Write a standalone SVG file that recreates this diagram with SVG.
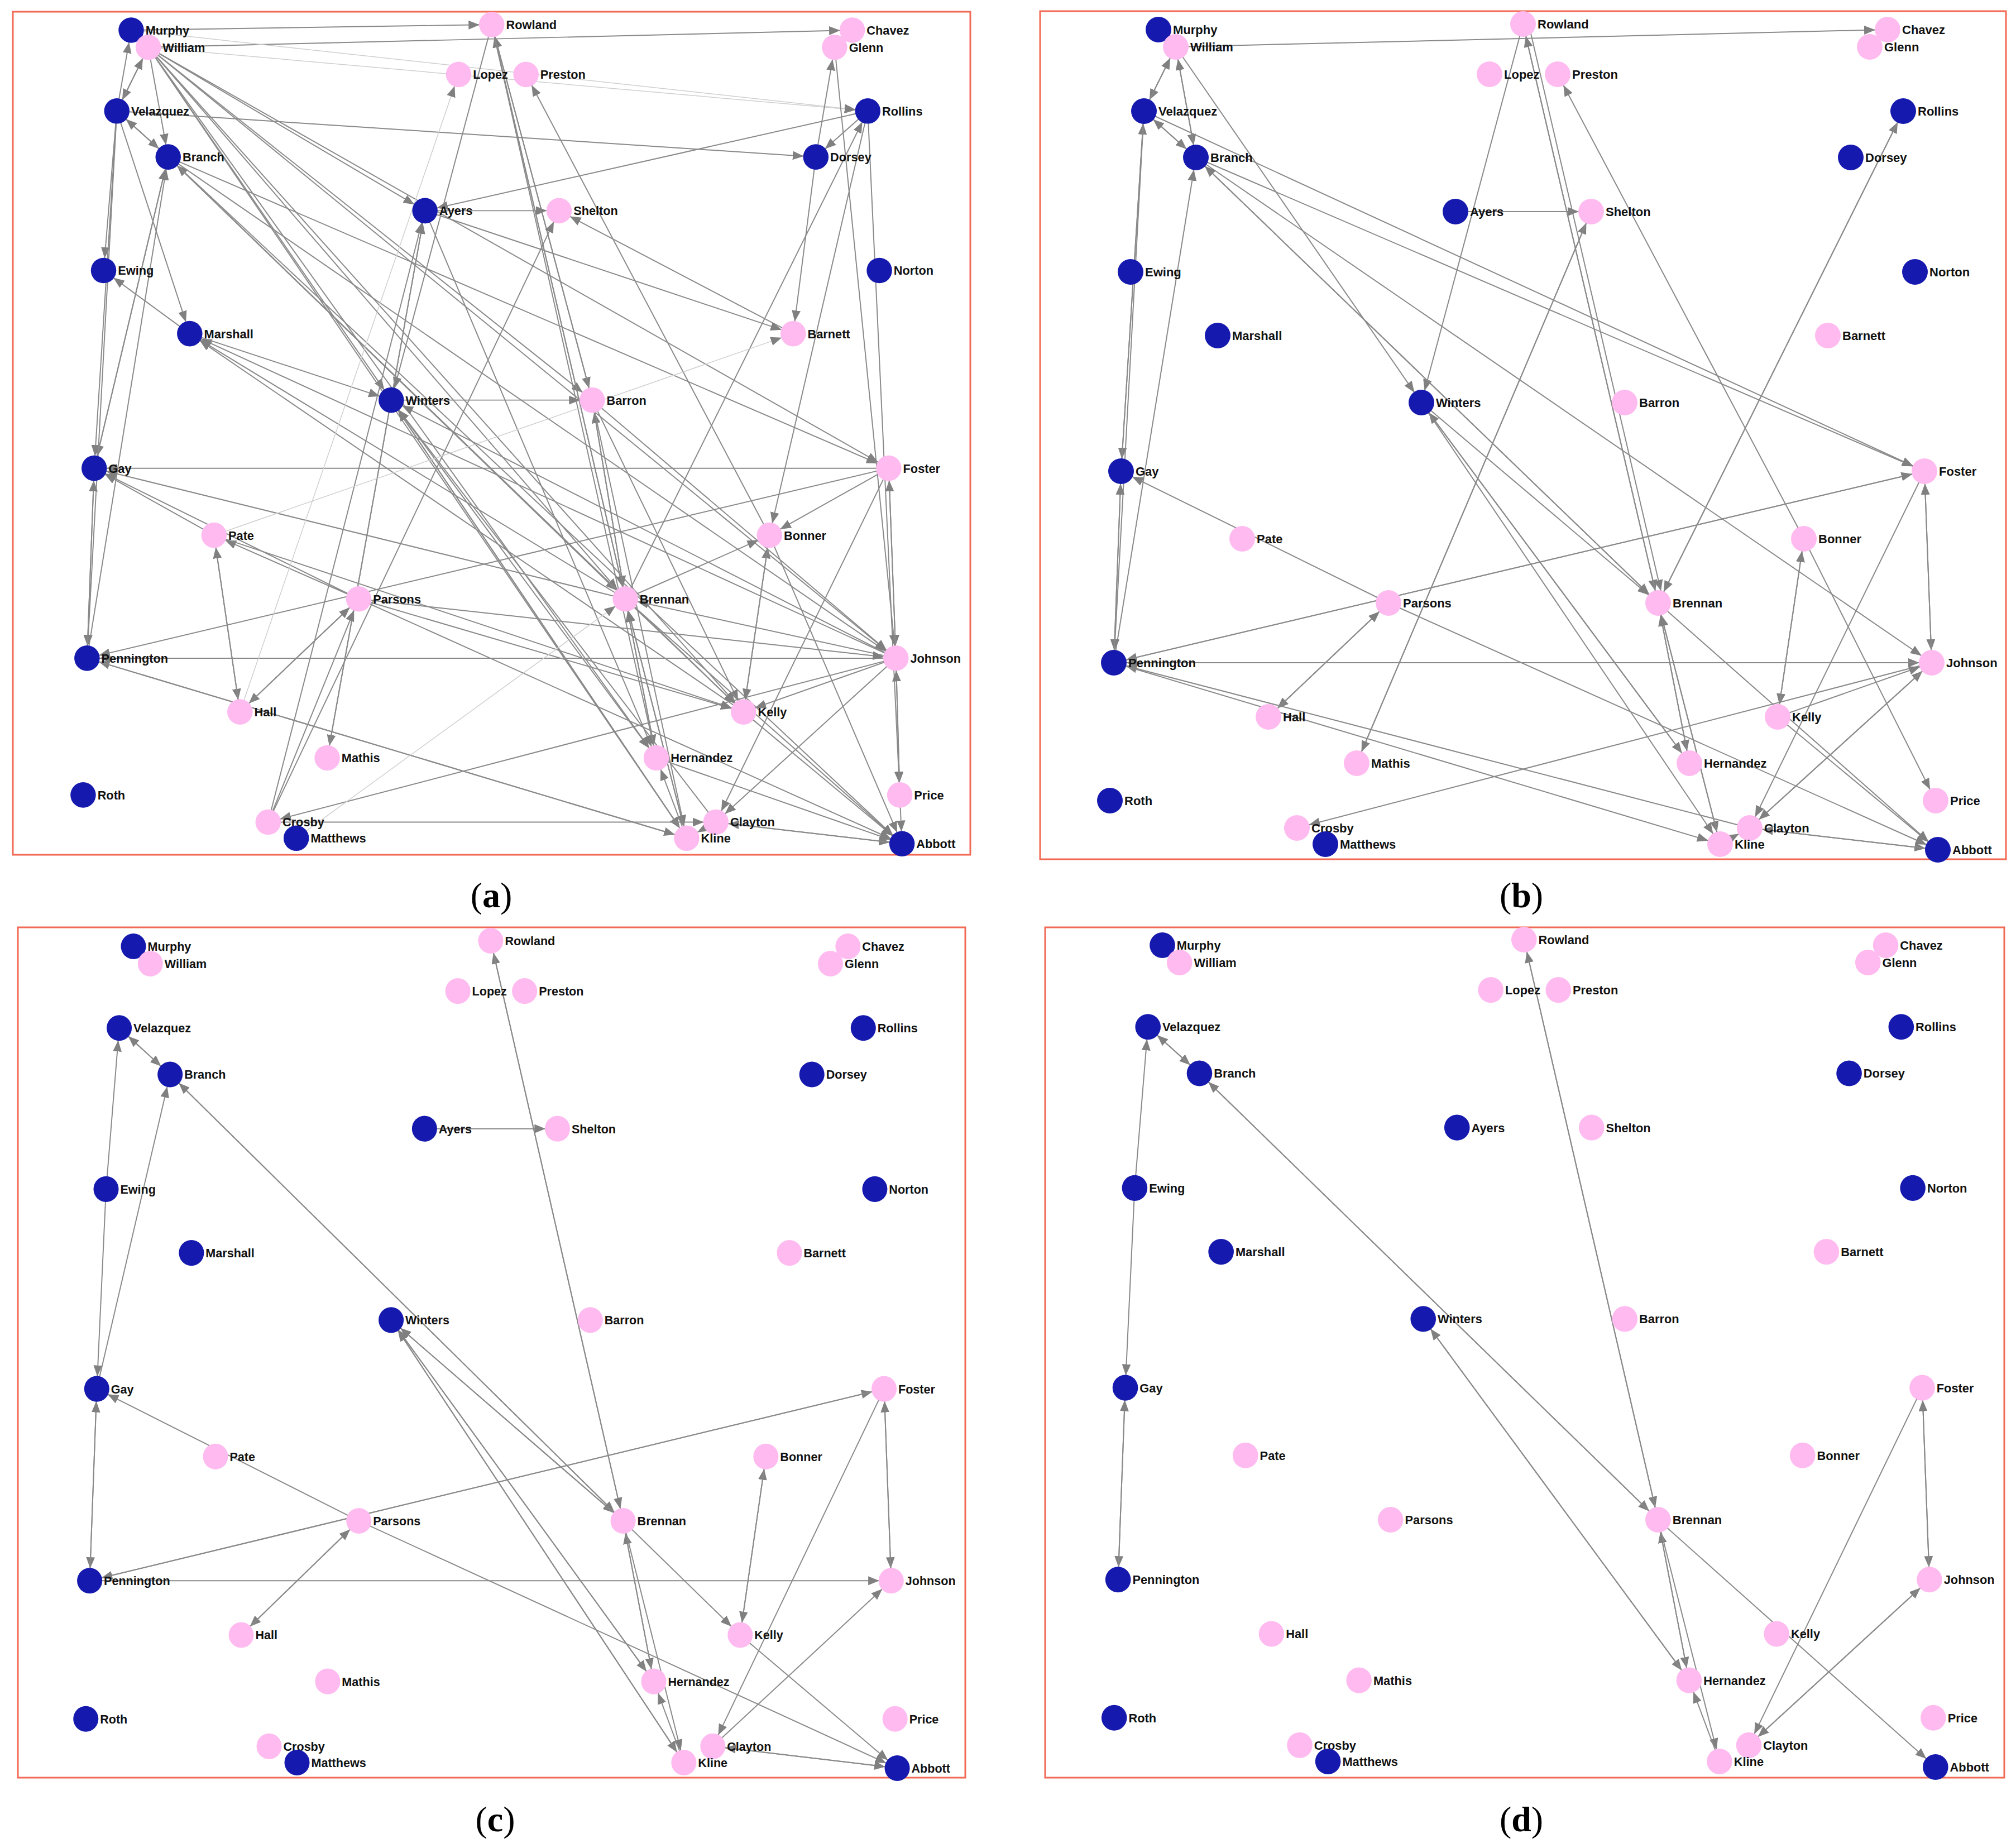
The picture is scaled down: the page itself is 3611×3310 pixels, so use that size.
<svg xmlns="http://www.w3.org/2000/svg" xmlns:xlink="http://www.w3.org/1999/xlink" width="3611" height="3310" viewBox="0 0 3611 3310">
<style>
.e line{stroke:#8a8a8a;stroke-width:2;marker-end:url(#ah)}
.e line.f{stroke:#cfcfcf;stroke-width:1.5}
.bl{fill:#1619ae}
.pk{fill:#ffbbf0}
.t{font-family:"Liberation Sans",Arial,sans-serif;font-size:22px;font-weight:bold;fill:#111}
.fr{fill:none;stroke:#f26a55;stroke-width:3}
.cap{font-family:"Liberation Serif","Times New Roman",serif;font-size:64px;fill:#000;text-anchor:middle}
</style>
<defs>
<marker id="ah" markerUnits="userSpaceOnUse" markerWidth="22" markerHeight="16" refX="42" refY="8" orient="auto"><path d="M0,0L20,8L0,16z" fill="#808080"/></marker>
</defs>
<rect width="3611" height="3310" fill="#fff"/>
<rect class="fr" x="23" y="21" width="1715" height="1510"/>
<rect class="fr" x="1863" y="20" width="1730" height="1519"/>
<rect class="fr" x="32" y="1661" width="1697" height="1523"/>
<rect class="fr" x="1872" y="1661" width="1718" height="1523"/>
<text class="cap" x="880" y="1625">(<tspan font-weight="bold">a</tspan>)</text>
<text class="cap" x="2725" y="1625">(<tspan font-weight="bold">b</tspan>)</text>
<text class="cap" x="887" y="3280">(<tspan font-weight="bold">c</tspan>)</text>
<text class="cap" x="2725" y="3280">(<tspan font-weight="bold">d</tspan>)</text>

<g id="connectors">
<g id="edges-a" class="e" transform="translate(-1817.2,1.4) scale(0.989,0.992)">
<line x1="2075" y1="53" x2="2728" y2="43"/>
<line x1="2106" y1="84" x2="3381" y2="53"/>
<line class="f" x1="2075" y1="53" x2="3409" y2="199"/>
<line class="f" x1="2106" y1="84" x2="3409" y2="199"/>
<line x1="2106" y1="84" x2="2049" y2="199"/>
<line x1="2049" y1="199" x2="2106" y2="84"/>
<line x1="2049" y1="199" x2="2075" y2="53"/>
<line x1="2106" y1="84" x2="2142" y2="282"/>
<line x1="2049" y1="199" x2="2142" y2="282"/>
<line x1="2142" y1="282" x2="2049" y2="199"/>
<line x1="2049" y1="199" x2="3315" y2="282"/>
<line x1="2106" y1="84" x2="2607" y2="379"/>
<line x1="2106" y1="84" x2="2546" y2="721"/>
<line x1="2106" y1="84" x2="2910" y2="721"/>
<line x1="2106" y1="84" x2="2970" y2="1080"/>
<line x1="2106" y1="84" x2="3447" y2="844"/>
<line x1="2106" y1="84" x2="3460" y2="1187"/>
<line x1="2106" y1="84" x2="3081" y2="1512"/>
<line x1="2106" y1="84" x2="3026" y2="1367"/>
<line x1="2106" y1="84" x2="3184" y2="1284"/>
<line x1="2049" y1="199" x2="2181" y2="601"/>
<line x1="2049" y1="199" x2="2025" y2="487"/>
<line x1="2181" y1="601" x2="2025" y2="487"/>
<line x1="2049" y1="199" x2="2008" y2="844"/>
<line x1="2142" y1="282" x2="2008" y2="844"/>
<line x1="2008" y1="844" x2="2142" y2="282"/>
<line x1="1995" y1="1187" x2="2142" y2="282"/>
<line x1="2049" y1="199" x2="1995" y2="1187"/>
<line x1="2008" y1="844" x2="1995" y2="1187"/>
<line x1="1995" y1="1187" x2="2008" y2="844"/>
<line x1="3447" y1="844" x2="2008" y2="844"/>
<line x1="2970" y1="1080" x2="2008" y2="844"/>
<line x1="2487" y1="1080" x2="2008" y2="844"/>
<line x1="2225" y1="965" x2="2008" y2="844"/>
<line x1="2142" y1="282" x2="2970" y2="1080"/>
<line x1="2970" y1="1080" x2="2142" y2="282"/>
<line x1="2142" y1="282" x2="3460" y2="1187"/>
<line x1="2142" y1="282" x2="3447" y2="844"/>
<line x1="2142" y1="282" x2="3184" y2="1284"/>
<line x1="2142" y1="282" x2="3471" y2="1522"/>
<line x1="3460" y1="1187" x2="2181" y2="601"/>
<line x1="3184" y1="1284" x2="2181" y2="601"/>
<line x1="2970" y1="1080" x2="2181" y2="601"/>
<line x1="2181" y1="601" x2="2546" y2="721"/>
<line x1="2546" y1="721" x2="2910" y2="721"/>
<line x1="2546" y1="721" x2="3081" y2="1512"/>
<line x1="3081" y1="1512" x2="2546" y2="721"/>
<line x1="2546" y1="721" x2="3026" y2="1367"/>
<line x1="3134" y1="1483" x2="2546" y2="721"/>
<line x1="2728" y1="43" x2="2910" y2="721"/>
<line x1="2910" y1="721" x2="2728" y2="43"/>
<line x1="2728" y1="43" x2="2970" y2="1080"/>
<line x1="2970" y1="1080" x2="2728" y2="43"/>
<line x1="2728" y1="43" x2="3026" y2="1367"/>
<line x1="2728" y1="43" x2="2546" y2="721"/>
<line x1="2607" y1="379" x2="2430" y2="1367"/>
<line x1="2430" y1="1367" x2="2607" y2="379"/>
<line x1="2323" y1="1483" x2="2607" y2="379"/>
<line x1="2607" y1="379" x2="2850" y2="379"/>
<line x1="2607" y1="379" x2="3026" y2="1367"/>
<line x1="3409" y1="199" x2="2607" y2="379"/>
<line x1="3231" y1="965" x2="2790" y2="133"/>
<line x1="3274" y1="601" x2="2850" y2="379"/>
<line x1="2607" y1="379" x2="3274" y2="601"/>
<line x1="2323" y1="1483" x2="2850" y2="379"/>
<line x1="3315" y1="282" x2="3349" y2="84"/>
<line x1="3409" y1="199" x2="3315" y2="282"/>
<line x1="3315" y1="282" x2="3274" y2="601"/>
<line x1="3409" y1="199" x2="3231" y2="965"/>
<line x1="3409" y1="199" x2="3467" y2="1434"/>
<line x1="2970" y1="1080" x2="3409" y2="199"/>
<line x1="3349" y1="84" x2="3460" y2="1187"/>
<line class="f" x1="2225" y1="965" x2="3274" y2="601"/>
<line x1="2910" y1="721" x2="3460" y2="1187"/>
<line x1="2910" y1="721" x2="3184" y2="1284"/>
<line x1="2910" y1="721" x2="2970" y2="1080"/>
<line x1="2970" y1="1080" x2="2910" y2="721"/>
<line x1="2910" y1="721" x2="3081" y2="1512"/>
<line x1="3447" y1="844" x2="3460" y2="1187"/>
<line x1="3460" y1="1187" x2="3447" y2="844"/>
<line x1="3447" y1="844" x2="1995" y2="1187"/>
<line x1="3447" y1="844" x2="3231" y2="965"/>
<line x1="3447" y1="844" x2="3134" y2="1483"/>
<line x1="3460" y1="1187" x2="1995" y2="1187"/>
<line x1="3460" y1="1187" x2="2970" y2="1080"/>
<line x1="2487" y1="1080" x2="3460" y2="1187"/>
<line x1="3460" y1="1187" x2="2323" y2="1483"/>
<line x1="3460" y1="1187" x2="3184" y2="1284"/>
<line x1="3460" y1="1187" x2="2546" y2="721"/>
<line x1="3460" y1="1187" x2="3467" y2="1434"/>
<line x1="3467" y1="1434" x2="3460" y2="1187"/>
<line x1="3467" y1="1434" x2="3471" y2="1522"/>
<line x1="3460" y1="1187" x2="3134" y2="1483"/>
<line x1="2225" y1="965" x2="2272" y2="1284"/>
<line x1="2272" y1="1284" x2="2225" y2="965"/>
<line x1="2487" y1="1080" x2="2225" y2="965"/>
<line x1="2225" y1="965" x2="3184" y2="1284"/>
<line x1="2487" y1="1080" x2="2272" y2="1284"/>
<line x1="2272" y1="1284" x2="2487" y2="1080"/>
<line x1="2323" y1="1483" x2="2487" y2="1080"/>
<line x1="2487" y1="1080" x2="3471" y2="1522"/>
<line x1="2487" y1="1080" x2="3184" y2="1284"/>
<line x1="3081" y1="1512" x2="1995" y2="1187"/>
<line x1="1995" y1="1187" x2="3081" y2="1512"/>
<line class="f" x1="2272" y1="1284" x2="2668" y2="133"/>
<line x1="2323" y1="1483" x2="3134" y2="1483"/>
<line class="f" x1="2374" y1="1512" x2="2970" y2="1080"/>
<line x1="3184" y1="1284" x2="3231" y2="965"/>
<line x1="3231" y1="965" x2="3184" y2="1284"/>
<line x1="2970" y1="1080" x2="3231" y2="965"/>
<line x1="2970" y1="1080" x2="3184" y2="1284"/>
<line x1="3184" y1="1284" x2="3471" y2="1522"/>
<line x1="2970" y1="1080" x2="3471" y2="1522"/>
<line x1="3026" y1="1367" x2="3471" y2="1522"/>
<line x1="3231" y1="965" x2="3471" y2="1522"/>
<line x1="2970" y1="1080" x2="3026" y2="1367"/>
<line x1="3026" y1="1367" x2="2970" y2="1080"/>
<line x1="2970" y1="1080" x2="3081" y2="1512"/>
<line x1="3081" y1="1512" x2="2970" y2="1080"/>
<line x1="3081" y1="1512" x2="3026" y2="1367"/>
<line x1="3134" y1="1483" x2="3471" y2="1522"/>
<line x1="3471" y1="1522" x2="3134" y2="1483"/>
<line x1="3134" y1="1483" x2="3081" y2="1512"/>
</g>

<g id="edges-b" class="e">
<line x1="2106" y1="84" x2="3381" y2="53"/>
<line x1="2106" y1="84" x2="2049" y2="199"/>
<line x1="2049" y1="199" x2="2106" y2="84"/>
<line x1="2106" y1="84" x2="2142" y2="282"/>
<line x1="2142" y1="282" x2="2106" y2="84"/>
<line x1="2049" y1="199" x2="2142" y2="282"/>
<line x1="2142" y1="282" x2="2049" y2="199"/>
<line x1="2049" y1="199" x2="2008" y2="844"/>
<line x1="2008" y1="844" x2="2049" y2="199"/>
<line x1="1995" y1="1187" x2="2142" y2="282"/>
<line x1="2049" y1="199" x2="1995" y2="1187"/>
<line x1="2008" y1="844" x2="1995" y2="1187"/>
<line x1="1995" y1="1187" x2="2008" y2="844"/>
<line x1="2106" y1="84" x2="2546" y2="721"/>
<line x1="2728" y1="43" x2="2546" y2="721"/>
<line x1="2728" y1="43" x2="2970" y2="1080"/>
<line x1="2970" y1="1080" x2="2728" y2="43"/>
<line x1="2738" y1="43" x2="2980" y2="1080"/>
<line x1="3231" y1="965" x2="2790" y2="133"/>
<line x1="2607" y1="379" x2="2850" y2="379"/>
<line x1="2430" y1="1367" x2="2850" y2="379"/>
<line x1="2850" y1="379" x2="2430" y2="1367"/>
<line x1="2970" y1="1080" x2="3409" y2="199"/>
<line x1="3409" y1="199" x2="2970" y2="1080"/>
<line x1="2049" y1="199" x2="3447" y2="844"/>
<line x1="2142" y1="282" x2="3447" y2="844"/>
<line x1="2142" y1="282" x2="3460" y2="1187"/>
<line x1="2142" y1="282" x2="2970" y2="1080"/>
<line x1="2970" y1="1080" x2="2142" y2="282"/>
<line x1="2546" y1="721" x2="2970" y2="1080"/>
<line x1="2546" y1="721" x2="3026" y2="1367"/>
<line x1="3026" y1="1367" x2="2546" y2="721"/>
<line x1="2546" y1="721" x2="3081" y2="1512"/>
<line x1="2487" y1="1080" x2="2008" y2="844"/>
<line x1="2487" y1="1080" x2="2272" y2="1284"/>
<line x1="2272" y1="1284" x2="2487" y2="1080"/>
<line x1="3447" y1="844" x2="1995" y2="1187"/>
<line x1="1995" y1="1187" x2="3447" y2="844"/>
<line x1="1995" y1="1187" x2="3460" y2="1187"/>
<line x1="3460" y1="1187" x2="1995" y2="1187"/>
<line x1="3134" y1="1483" x2="1995" y2="1187"/>
<line x1="1995" y1="1187" x2="3081" y2="1512"/>
<line x1="2487" y1="1080" x2="3471" y2="1522"/>
<line x1="3460" y1="1187" x2="2323" y2="1483"/>
<line x1="3184" y1="1284" x2="3460" y2="1187"/>
<line x1="3231" y1="965" x2="3184" y2="1284"/>
<line x1="3184" y1="1284" x2="3231" y2="965"/>
<line x1="3231" y1="965" x2="3467" y2="1434"/>
<line x1="2970" y1="1080" x2="3471" y2="1522"/>
<line x1="2970" y1="1080" x2="3026" y2="1367"/>
<line x1="3026" y1="1367" x2="2970" y2="1080"/>
<line x1="2970" y1="1080" x2="3081" y2="1512"/>
<line x1="3081" y1="1512" x2="2970" y2="1080"/>
<line x1="3447" y1="844" x2="3134" y2="1483"/>
<line x1="3134" y1="1483" x2="3460" y2="1187"/>
<line x1="3460" y1="1187" x2="3134" y2="1483"/>
<line x1="3447" y1="844" x2="3460" y2="1187"/>
<line x1="3460" y1="1187" x2="3447" y2="844"/>
<line x1="3134" y1="1483" x2="3471" y2="1522"/>
<line x1="3471" y1="1522" x2="3134" y2="1483"/>
<line x1="3081" y1="1512" x2="3134" y2="1483"/>
<line x1="3184" y1="1284" x2="3471" y2="1522"/>
</g>

<g id="edges-c" class="e" transform="translate(-1794.5,1641.9) scale(0.98,1.002)">
<line x1="2049" y1="199" x2="2142" y2="282"/>
<line x1="2142" y1="282" x2="2049" y2="199"/>
<line x1="2025" y1="487" x2="2049" y2="199"/>
<line x1="2025" y1="487" x2="2008" y2="844"/>
<line x1="2008" y1="844" x2="2142" y2="282"/>
<line x1="2142" y1="282" x2="2970" y2="1080"/>
<line x1="2970" y1="1080" x2="2142" y2="282"/>
<line x1="2970" y1="1080" x2="2728" y2="43"/>
<line x1="2728" y1="43" x2="2970" y2="1080"/>
<line x1="2607" y1="379" x2="2850" y2="379"/>
<line x1="2546" y1="721" x2="2970" y2="1080"/>
<line x1="2970" y1="1080" x2="2546" y2="721"/>
<line x1="2546" y1="721" x2="3026" y2="1367"/>
<line x1="3026" y1="1367" x2="2546" y2="721"/>
<line x1="2546" y1="721" x2="3081" y2="1512"/>
<line x1="3081" y1="1512" x2="2546" y2="721"/>
<line x1="2487" y1="1080" x2="2008" y2="844"/>
<line x1="2008" y1="844" x2="1995" y2="1187"/>
<line x1="1995" y1="1187" x2="2008" y2="844"/>
<line x1="2487" y1="1080" x2="2272" y2="1284"/>
<line x1="2272" y1="1284" x2="2487" y2="1080"/>
<line x1="2487" y1="1080" x2="3471" y2="1522"/>
<line x1="1995" y1="1187" x2="3447" y2="844"/>
<line x1="3447" y1="844" x2="1995" y2="1187"/>
<line x1="1995" y1="1187" x2="3460" y2="1187"/>
<line x1="3447" y1="844" x2="3460" y2="1187"/>
<line x1="3460" y1="1187" x2="3447" y2="844"/>
<line x1="3447" y1="844" x2="3134" y2="1483"/>
<line x1="3184" y1="1284" x2="3231" y2="965"/>
<line x1="3231" y1="965" x2="3184" y2="1284"/>
<line x1="2970" y1="1080" x2="3184" y2="1284"/>
<line x1="3184" y1="1284" x2="3471" y2="1522"/>
<line x1="2970" y1="1080" x2="3026" y2="1367"/>
<line x1="3026" y1="1367" x2="2970" y2="1080"/>
<line x1="2970" y1="1080" x2="3081" y2="1512"/>
<line x1="3081" y1="1512" x2="3026" y2="1367"/>
<line x1="3134" y1="1483" x2="3460" y2="1187"/>
<line x1="3471" y1="1522" x2="3134" y2="1483"/>
<line x1="3134" y1="1483" x2="3471" y2="1522"/>
</g>

<g id="edges-d" class="e" transform="translate(23.6,1639.9) scale(0.992,1.002)">
<line x1="2049" y1="199" x2="2142" y2="282"/>
<line x1="2142" y1="282" x2="2049" y2="199"/>
<line x1="2025" y1="487" x2="2049" y2="199"/>
<line x1="2025" y1="487" x2="2008" y2="844"/>
<line x1="2008" y1="844" x2="1995" y2="1187"/>
<line x1="1995" y1="1187" x2="2008" y2="844"/>
<line x1="2142" y1="282" x2="2970" y2="1080"/>
<line x1="2970" y1="1080" x2="2142" y2="282"/>
<line x1="2728" y1="43" x2="2970" y2="1080"/>
<line x1="2970" y1="1080" x2="2728" y2="43"/>
<line x1="2970" y1="1080" x2="3471" y2="1522"/>
<line x1="2546" y1="721" x2="3026" y2="1367"/>
<line x1="3026" y1="1367" x2="2546" y2="721"/>
<line x1="2970" y1="1080" x2="3026" y2="1367"/>
<line x1="3026" y1="1367" x2="2970" y2="1080"/>
<line x1="2970" y1="1080" x2="3081" y2="1512"/>
<line x1="3081" y1="1512" x2="3026" y2="1367"/>
<line x1="3447" y1="844" x2="3460" y2="1187"/>
<line x1="3460" y1="1187" x2="3447" y2="844"/>
<line x1="3447" y1="844" x2="3134" y2="1483"/>
<line x1="3134" y1="1483" x2="3460" y2="1187"/>
<line x1="3460" y1="1187" x2="3134" y2="1483"/>
</g>
</g>

<g id="nodes-b">
<g id="n-Murphy"><circle class="bl" cx="2075" cy="53" r="23"/><text class="t" x="2101" y="61">Murphy</text></g>
<g id="n-William"><circle class="pk" cx="2106" cy="84" r="23"/><text class="t" x="2132" y="92">William</text></g>
<g id="n-Rowland"><circle class="pk" cx="2728" cy="43" r="23"/><text class="t" x="2754" y="51">Rowland</text></g>
<g id="n-Chavez"><circle class="pk" cx="3381" cy="53" r="23"/><text class="t" x="3407" y="61">Chavez</text></g>
<g id="n-Glenn"><circle class="pk" cx="3349" cy="84" r="23"/><text class="t" x="3375" y="92">Glenn</text></g>
<g id="n-Lopez"><circle class="pk" cx="2668" cy="133" r="23"/><text class="t" x="2694" y="141">Lopez</text></g>
<g id="n-Preston"><circle class="pk" cx="2790" cy="133" r="23"/><text class="t" x="2816" y="141">Preston</text></g>
<g id="n-Rollins"><circle class="bl" cx="3409" cy="199" r="23"/><text class="t" x="3435" y="207">Rollins</text></g>
<g id="n-Velazquez"><circle class="bl" cx="2049" cy="199" r="23"/><text class="t" x="2075" y="207">Velazquez</text></g>
<g id="n-Branch"><circle class="bl" cx="2142" cy="282" r="23"/><text class="t" x="2168" y="290">Branch</text></g>
<g id="n-Dorsey"><circle class="bl" cx="3315" cy="282" r="23"/><text class="t" x="3341" y="290">Dorsey</text></g>
<g id="n-Ayers"><circle class="bl" cx="2607" cy="379" r="23"/><text class="t" x="2633" y="387">Ayers</text></g>
<g id="n-Shelton"><circle class="pk" cx="2850" cy="379" r="23"/><text class="t" x="2876" y="387">Shelton</text></g>
<g id="n-Ewing"><circle class="bl" cx="2025" cy="487" r="23"/><text class="t" x="2051" y="495">Ewing</text></g>
<g id="n-Norton"><circle class="bl" cx="3430" cy="487" r="23"/><text class="t" x="3456" y="495">Norton</text></g>
<g id="n-Marshall"><circle class="bl" cx="2181" cy="601" r="23"/><text class="t" x="2207" y="609">Marshall</text></g>
<g id="n-Barnett"><circle class="pk" cx="3274" cy="601" r="23"/><text class="t" x="3300" y="609">Barnett</text></g>
<g id="n-Winters"><circle class="bl" cx="2546" cy="721" r="23"/><text class="t" x="2572" y="729">Winters</text></g>
<g id="n-Barron"><circle class="pk" cx="2910" cy="721" r="23"/><text class="t" x="2936" y="729">Barron</text></g>
<g id="n-Gay"><circle class="bl" cx="2008" cy="844" r="23"/><text class="t" x="2034" y="852">Gay</text></g>
<g id="n-Foster"><circle class="pk" cx="3447" cy="844" r="23"/><text class="t" x="3473" y="852">Foster</text></g>
<g id="n-Pate"><circle class="pk" cx="2225" cy="965" r="23"/><text class="t" x="2251" y="973">Pate</text></g>
<g id="n-Bonner"><circle class="pk" cx="3231" cy="965" r="23"/><text class="t" x="3257" y="973">Bonner</text></g>
<g id="n-Parsons"><circle class="pk" cx="2487" cy="1080" r="23"/><text class="t" x="2513" y="1088">Parsons</text></g>
<g id="n-Brennan"><circle class="pk" cx="2970" cy="1080" r="23"/><text class="t" x="2996" y="1088">Brennan</text></g>
<g id="n-Pennington"><circle class="bl" cx="1995" cy="1187" r="23"/><text class="t" x="2021" y="1195">Pennington</text></g>
<g id="n-Johnson"><circle class="pk" cx="3460" cy="1187" r="23"/><text class="t" x="3486" y="1195">Johnson</text></g>
<g id="n-Hall"><circle class="pk" cx="2272" cy="1284" r="23"/><text class="t" x="2298" y="1292">Hall</text></g>
<g id="n-Kelly"><circle class="pk" cx="3184" cy="1284" r="23"/><text class="t" x="3210" y="1292">Kelly</text></g>
<g id="n-Mathis"><circle class="pk" cx="2430" cy="1367" r="23"/><text class="t" x="2456" y="1375">Mathis</text></g>
<g id="n-Hernandez"><circle class="pk" cx="3026" cy="1367" r="23"/><text class="t" x="3052" y="1375">Hernandez</text></g>
<g id="n-Roth"><circle class="bl" cx="1988" cy="1434" r="23"/><text class="t" x="2014" y="1442">Roth</text></g>
<g id="n-Price"><circle class="pk" cx="3467" cy="1434" r="23"/><text class="t" x="3493" y="1442">Price</text></g>
<g id="n-Crosby"><circle class="pk" cx="2323" cy="1483" r="23"/><text class="t" x="2349" y="1491">Crosby</text></g>
<g id="n-Clayton"><circle class="pk" cx="3134" cy="1483" r="23"/><text class="t" x="3160" y="1491">Clayton</text></g>
<g id="n-Matthews"><circle class="bl" cx="2374" cy="1512" r="23"/><text class="t" x="2400" y="1520">Matthews</text></g>
<g id="n-Kline"><circle class="pk" cx="3081" cy="1512" r="23"/><text class="t" x="3107" y="1520">Kline</text></g>
<g id="n-Abbott"><circle class="bl" cx="3471" cy="1522" r="23"/><text class="t" x="3497" y="1530">Abbott</text></g>
</g>
<use id="nodes-a" href="#nodes-b" xlink:href="#nodes-b" transform="translate(-1817.2,1.4) scale(0.989,0.992)"/>
<use id="nodes-c" href="#nodes-b" xlink:href="#nodes-b" transform="translate(-1794.5,1641.9) scale(0.98,1.002)"/>
<use id="nodes-d" href="#nodes-b" xlink:href="#nodes-b" transform="translate(23.6,1639.9) scale(0.992,1.002)"/>
</svg>
